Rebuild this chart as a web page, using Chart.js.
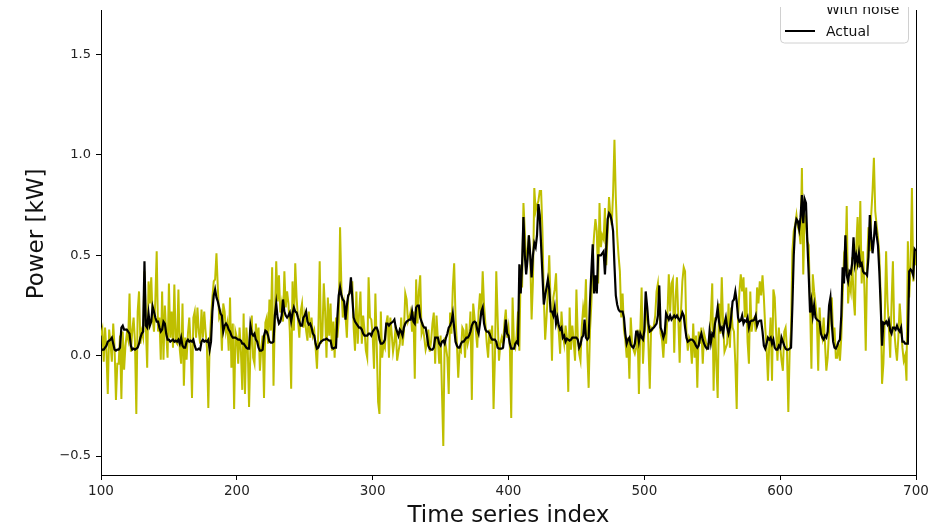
<!DOCTYPE html>
<html lang="en">
<head>
    <meta charset="UTF-8">
    <title>Power time series</title>
    <style>
        * {
            margin: 0;
            padding: 0;
            box-sizing: border-box;
        }

        body {
            background-color: #fff;
            overflow: hidden;
        }

        /* the figure is cut 20px above the axes top, like the picture */
        canvas {
            display: block;
            margin-top: -20px;
        }
    </style>
</head>
<body>
    <canvas id="powerChart" width="951" height="552"></canvas>

    <script src="https://cdn.jsdelivr.net/npm/chart.js"></script>
    <script>
// first time series index of both series
const xStart = 100;

// measured power (kW) with added noise, one value per index 100..700
const withNoise = [
0.1, 0.13, -0.03, 0.14, 0.02, -0.19, 0.13, 0.06, -0.03, 0.16,
0.04, -0.22, -0.04, -0.04, 0.1, -0.215, 0.12, -0.07, 0.05, 0.11,
0.08, 0.31, 0.02, 0.12, 0.19, 0.07, -0.29, 0.22, 0.32, 0.06,
0.12, 0.09, 0.42, 0.15, -0.06, 0.37, 0.26, 0.39, 0.19, 0.12,
0.28, 0.52, 0.12, 0.19, -0.02, 0.32, -0.02, 0.25, 0.12, -0.01,
0.36, 0.09, 0.22, 0.04, 0.355, 0.07, 0.06, 0.33, 0.03, -0.04,
0.26, -0.15, 0.09, -0.02, 0.11, 0.19, 0.05, -0.21, 0.19, 0.22,
0.09, 0.24, 0.12, 0.06, 0.23, 0.09, 0.22, 0.12, 0.04, -0.26,
0.06, 0.19, 0.29, 0.37, 0.38, 0.51, 0.34, 0.19, 0.21, 0.025,
0.26, 0.22, 0.12, 0.16, 0.025, 0.29, -0.06, 0.16, -0.265, 0.12,
0.09, -0.04, 0.14, 0.02, -0.17, 0.21, -0.19, 0.14, 0.05, -0.255,
0.025, 0.2, -0.01, -0.04, 0.16, 0.07, 0.14, -0.075, 0.04, 0.1,
-0.21, 0.165, 0.19, 0.06, 0.28, 0.125, 0.44, -0.15, 0.2, 0.47,
0.27, 0.4, 0.215, 0.26, 0.17, 0.42, 0.24, 0.32, 0.26, 0.12,
-0.165, 0.37, 0.125, 0.46, 0.29, 0.18, 0.09, 0.22, 0.26, 0.14,
0.2, 0.125, 0.075, 0.22, 0.09, 0.19, 0.1, 0.125, 0.04, -0.065,
0.125, 0.47, 0.06, 0.1, 0.36, 0.22, -0.01, 0.29, 0.1, 0.26,
0.025, 0.17, -0.01, 0.19, 0.09, 0.17, 0.64, 0.34, 0.19, 0.26,
0.2, 0.09, 0.29, 0.32, 0.33, 0.37, 0.14, 0.025, 0.32, 0.06,
0.21, 0.32, 0.06, 0.2, 0.125, 0.025, -0.01, 0.39, 0.19, 0.18,
0.1, -0.065, 0.31, 0.05, -0.23, -0.29, 0.22, -0.01, 0.06, 0.04,
0.16, 0.2, -0.01, 0.19, 0.11, 0.02, 0.07, 0.15, -0.025, 0.02,
0.06, 0.19, 0.05, 0.12, 0.31, 0.28, 0.17, 0.19, 0.22, 0.12,
0.22, -0.115, 0.38, 0.16, 0.32, 0.4, 0.11, 0.14, 0.09, 0.03,
0.06, 0.13, 0.02, 0.07, 0.16, 0.215, -0.04, 0.2, 0.08, -0.04,
0.1, -0.175, -0.45, 0.09, 0.04, -0.01, -0.19, 0.215, 0.11, 0.34,
0.46, 0.19, 0.06, -0.11, 0.03, 0.02, 0.14, 0.125, -0.01, 0.16,
0.06, 0.09, 0.22, -0.22, 0.26, 0.19, 0.12, 0.04, 0.22, 0.31,
0.2, 0.42, 0.25, 0.16, 0.06, -0.01, 0.13, 0.06, 0.15, -0.265,
-0.01, 0.42, 0.19, -0.025, 0.06, 0.09, 0.06, 0.16, 0.23, 0.09,
0.14, 0.04, -0.31, 0.29, 0.06, 0.04, 0.1, 0.22, 0.025, 0.45,
0.34, 0.76, 0.62, 0.45, 0.52, 0.6, 0.5, 0.18, 0.37, 0.835,
0.72, 0.75, 0.77, 0.82, 0.82, 0.62, 0.29, 0.08, 0.19, 0.32,
0.5, 0.26, -0.025, 0.29, 0.33, 0.41, 0.19, 0.12, 0.01, 0.22,
0.11, 0.06, 0.15, 0.09, -0.18, 0.24, 0.03, 0.15, 0.07, -0.025,
0.33, 0.09, 0.01, -0.025, 0.15, 0.24, 0.19, 0.38, 0.02, -0.16,
0.125, 0.26, 0.49, 0.6, 0.68, 0.62, 0.36, 0.76, 0.54, 0.6,
0.58, 0.735, 0.45, 0.62, 0.79, 0.7, 0.65, 0.81, 1.075, 0.79,
0.6, 0.5, 0.42, 0.19, 0.31, 0.13, 0.08, -0.01, 0.09, -0.115,
0.19, 0.06, 0.03, 0.01, 0.04, 0.13, -0.19, 0.12, 0.34, -0.04,
0.11, 0.19, 0.25, 0.06, -0.165, 0.14, 0.13, 0.15, 0.2, 0.32,
0.36, 0.22, 0.11, 0.08, -0.01, 0.12, 0.06, 0.2, 0.405, 0.22,
0.36, 0.38, 0.015, 0.29, 0.39, 0.19, -0.035, 0.22, 0.37, 0.44,
0.42, 0.11, 0.025, 0.09, 0.07, -0.04, 0.16, -0.01, 0.1, -0.16,
0.12, 0.06, 0.14, -0.04, 0.11, 0.08, 0.04, 0.06, 0.06, 0.2,
0.36, -0.175, 0.19, -0.04, -0.21, 0.26, 0.11, 0.39, 0.16, 0.02,
0.04, 0.06, 0.26, 0.04, 0.24, 0.14, 0.12, -0.04, -0.265, 0.19,
0.32, 0.405, 0.32, 0.39, 0.19, 0.34, 0.07, -0.04, 0.32, 0.12,
0.18, 0.19, 0.12, 0.34, 0.26, 0.37, 0.3, 0.4, 0.29, 0.14,
0.04, -0.125, 0.06, 0.19, -0.125, 0.33, 0.29, 0.12, -0.025, 0.14,
0.05, -0.025, -0.075, 0.12, 0.14, 0.03, -0.28, 0.025, 0.125, 0.52,
0.62, 0.65, 0.7, 0.64, 0.62, 0.555, 0.935, 0.405, 0.7, 0.67,
0.57, 0.55, 0.26, -0.065, 0.405, 0.32, 0.26, 0.19, -0.075, 0.24,
0.125, 0.09, 0.19, 0.06, -0.075, -0.01, 0.125, 0.22, 0.29, 0.09,
0.14, -0.01, -0.01, 0.06, -0.025, 0.09, 0.3, 0.49, 0.46, 0.745,
0.26, 0.36, 0.32, 0.49, 0.29, 0.2, 0.54, 0.69, 0.44, 0.77,
0.36, 0.52, 0.34, 0.025, 0.45, 0.64, 0.52, 0.7, 0.82, 0.985,
0.72, 0.65, 0.59, 0.5, 0.3, -0.14, -0.04, 0.19, 0.52, 0.27,
0.15, -0.01, 0.26, 0.47, 0.125, 0.04, -0.025, 0.09, 0.26, 0.16,
0.04, -0.025, 0.0, -0.125, 0.57, 0.29, 0.45, 0.835, 0.37, 0.53,
0.45
];

// actual power (kW), one value per index 100..700
const actual = [
0.025, 0.03, 0.03, 0.04, 0.05, 0.07, 0.075, 0.08, 0.09, 0.06,
0.03, 0.025, 0.03, 0.03, 0.04, 0.14, 0.15, 0.13, 0.13, 0.13,
0.12, 0.11, 0.05, 0.03, 0.035, 0.03, 0.035, 0.04, 0.06, 0.09,
0.11, 0.12, 0.47, 0.15, 0.14, 0.21, 0.15, 0.17, 0.245, 0.22,
0.19, 0.17, 0.17, 0.14, 0.12, 0.13, 0.17, 0.16, 0.11, 0.08,
0.08, 0.07, 0.075, 0.08, 0.07, 0.075, 0.07, 0.08, 0.06, 0.09,
0.05, 0.04, 0.04, 0.07, 0.08, 0.07, 0.075, 0.07, 0.08, 0.05,
0.03, 0.03, 0.035, 0.03, 0.07, 0.08, 0.07, 0.075, 0.07, 0.08,
0.03, 0.07, 0.22, 0.3, 0.33, 0.29, 0.27, 0.24, 0.21, 0.2,
0.12, 0.15, 0.16, 0.15, 0.13, 0.12, 0.1, 0.09, 0.09, 0.09,
0.085, 0.08, 0.08, 0.075, 0.06, 0.06, 0.05, 0.04, 0.035, 0.035,
0.15, 0.11, 0.1, 0.11, 0.08, 0.07, 0.04, 0.025, 0.025, 0.03,
0.1, 0.125, 0.12, 0.1, 0.07, 0.065, 0.065, 0.07, 0.2, 0.26,
0.19, 0.16, 0.17, 0.2, 0.28, 0.22, 0.2, 0.19, 0.2, 0.215,
0.17, 0.21, 0.24, 0.22, 0.215, 0.19, 0.17, 0.15, 0.15, 0.19,
0.2, 0.22, 0.17, 0.155, 0.16, 0.14, 0.11, 0.1, 0.06, 0.035,
0.04, 0.06, 0.07, 0.075, 0.08, 0.08, 0.085, 0.08, 0.075, 0.075,
0.04, 0.035, 0.04, 0.04, 0.19, 0.3, 0.34, 0.3, 0.28, 0.27,
0.18, 0.25, 0.3, 0.31, 0.39, 0.29, 0.19, 0.17, 0.16, 0.15,
0.14, 0.14, 0.13, 0.11, 0.1, 0.1, 0.1, 0.11, 0.11, 0.1,
0.12, 0.13, 0.14, 0.14, 0.12, 0.08, 0.06, 0.06, 0.065, 0.08,
0.16, 0.16, 0.15, 0.16, 0.165, 0.17, 0.18, 0.14, 0.12, 0.1,
0.13, 0.12, 0.1, 0.14, 0.16, 0.17, 0.175, 0.18, 0.18, 0.22,
0.17, 0.16, 0.24, 0.25, 0.25, 0.19, 0.17, 0.15, 0.14, 0.14,
0.1, 0.05, 0.035, 0.03, 0.03, 0.04, 0.09, 0.09, 0.09, 0.06,
0.05, 0.07, 0.075, 0.06, 0.09, 0.11, 0.14, 0.15, 0.17, 0.21,
0.14, 0.07, 0.05, 0.04, 0.04, 0.06, 0.07, 0.07, 0.08, 0.09,
0.09, 0.1, 0.12, 0.15, 0.165, 0.17, 0.165, 0.13, 0.11, 0.16,
0.22, 0.24, 0.16, 0.13, 0.12, 0.12, 0.11, 0.09, 0.08, 0.08,
0.08, 0.07, 0.04, 0.035, 0.035, 0.035, 0.04, 0.1, 0.18, 0.11,
0.1, 0.06, 0.035, 0.035, 0.035, 0.06, 0.07, 0.06, 0.455, 0.31,
0.455, 0.69, 0.5, 0.405, 0.48, 0.6, 0.5, 0.39, 0.5, 0.56,
0.54, 0.6, 0.755, 0.7, 0.55, 0.4, 0.255, 0.3, 0.34, 0.38,
0.33, 0.22, 0.22, 0.2, 0.24, 0.16, 0.19, 0.15, 0.13, 0.14,
0.09, 0.1, 0.07, 0.085, 0.08, 0.075, 0.08, 0.09, 0.09, 0.09,
0.09, 0.08, 0.04, 0.055, 0.09, 0.1, 0.18, 0.09, 0.08, 0.09,
0.27, 0.42, 0.555, 0.31, 0.4, 0.31, 0.5, 0.5, 0.5, 0.51,
0.52, 0.405, 0.54, 0.68, 0.71, 0.7, 0.67, 0.62, 0.45, 0.3,
0.255, 0.23, 0.22, 0.22, 0.22, 0.19, 0.11, 0.06, 0.08, 0.09,
0.055, 0.045, 0.04, 0.06, 0.12, 0.12, 0.07, 0.11, 0.09, 0.08,
0.125, 0.32, 0.25, 0.16, 0.12, 0.125, 0.135, 0.14, 0.15, 0.16,
0.2, 0.35, 0.14, 0.12, 0.09, 0.11, 0.21, 0.195, 0.18, 0.2,
0.18, 0.19, 0.2, 0.19, 0.2, 0.185, 0.175, 0.19, 0.215, 0.2,
0.14, 0.09, 0.07, 0.075, 0.08, 0.08, 0.075, 0.065, 0.05, 0.04,
0.05, 0.09, 0.11, 0.08, 0.06, 0.045, 0.035, 0.035, 0.12, 0.065,
0.11, 0.1, 0.16, 0.19, 0.24, 0.17, 0.13, 0.14, 0.11, 0.16,
0.19, 0.14, 0.11, 0.14, 0.2, 0.27, 0.28, 0.32, 0.27, 0.19,
0.17, 0.175, 0.2, 0.16, 0.175, 0.17, 0.19, 0.14, 0.17, 0.175,
0.175, 0.18, 0.2, 0.15, 0.17, 0.175, 0.175, 0.12, 0.05, 0.035,
0.06, 0.09, 0.08, 0.09, 0.06, 0.08, 0.04, 0.03, 0.03, 0.05,
0.04, 0.09, 0.07, 0.05, 0.035, 0.03, 0.03, 0.035, 0.04, 0.25,
0.5, 0.64, 0.68, 0.67, 0.63, 0.69, 0.8, 0.66, 0.78, 0.76,
0.57, 0.405, 0.215, 0.27, 0.2, 0.25, 0.19, 0.18, 0.175, 0.17,
0.11, 0.09, 0.08, 0.1, 0.09, 0.12, 0.25, 0.29, 0.16, 0.07,
0.04, 0.035, 0.05, 0.07, 0.08, 0.2, 0.44, 0.36, 0.6, 0.4,
0.37, 0.42, 0.41, 0.46, 0.59, 0.46, 0.5, 0.46, 0.51, 0.45,
0.46, 0.42, 0.41, 0.41, 0.4, 0.49, 0.7, 0.59, 0.51, 0.58,
0.67, 0.6, 0.55, 0.42, 0.25, 0.05, 0.165, 0.16, 0.17, 0.155,
0.175, 0.125, 0.11, 0.14, 0.14, 0.13, 0.15, 0.13, 0.12, 0.14,
0.07, 0.07, 0.06, 0.06, 0.06, 0.42, 0.43, 0.42, 0.4, 0.53,
0.52
];

const xTicks = [100, 200, 300, 400, 500, 600, 700];
const yTicks = [-0.5, 0.0, 0.5, 1.0, 1.5];
const seriesNames = ['With noise', 'Actual'];

const FONT = "'DejaVu Sans', 'Liberation Sans', sans-serif";

function toPoints(values) {
    return values.map((v, k) => ({ x: xStart + k, y: v }));
}

// blank band over the axes top, then the legend whose top is cut off
const topCut = {
    id: 'topCut',
    afterDraw(chart) {
        const ctx = chart.ctx;
        ctx.save();
        ctx.fillStyle = '#fff';
        ctx.fillRect(0, 0, chart.width, 30);

        ctx.beginPath();
        ctx.rect(0, 27, chart.width, chart.height);
        ctx.clip();
        ctx.beginPath();
        ctx.roundRect(780.5, 5.5, 128, 57.5, 4);
        ctx.fillStyle = 'rgba(255,255,255,0.8)';
        ctx.fill();
        ctx.strokeStyle = '#d0d0d0';
        ctx.lineWidth = 1;
        ctx.stroke();

        ctx.font = '14px ' + FONT;
        ctx.fillStyle = '#111';
        ctx.textBaseline = 'alphabetic';
        ctx.fillText(seriesNames[0], 826, 34);
        ctx.fillText(seriesNames[1], 826, 56);

        ctx.beginPath();
        ctx.moveTo(785, 51);
        ctx.lineTo(815, 51);
        ctx.strokeStyle = '#000';
        ctx.lineWidth = 2;
        ctx.stroke();
        ctx.restore();
    }
};

// right spine
const rightSpine = {
    id: 'rightSpine',
    afterDatasetsDraw(chart) {
        const { ctx, chartArea } = chart;
        ctx.save();
        ctx.beginPath();
        ctx.moveTo(Math.round(chartArea.right) + 0.5, chartArea.top);
        ctx.lineTo(Math.round(chartArea.right) + 0.5, chartArea.bottom);
        ctx.strokeStyle = '#000';
        ctx.lineWidth = 1;
        ctx.stroke();
        ctx.restore();
    }
};

new Chart(document.getElementById('powerChart'), {
    type: 'line',
    data: {
        datasets: [{
            label: seriesNames[0],
            data: toPoints(withNoise),
            borderColor: '#bfbf00',
            borderWidth: 2,
            pointRadius: 0,
            tension: 0,
            order: 2
        }, {
            label: seriesNames[1],
            data: toPoints(actual),
            borderColor: '#000',
            borderWidth: 2.2,
            pointRadius: 0,
            tension: 0,
            order: 1
        }]
    },
    options: {
        responsive: false,
        animation: false,
        layout: { padding: { top: 10, right: 35, left: 0, bottom: 0 } },
        plugins: {
            legend: { display: false },
            tooltip: { enabled: false }
        },
        scales: {
            x: {
                type: 'linear',
                min: 100,
                max: 700,
                afterBuildTicks: s => { s.ticks = xTicks.map(v => ({ value: v })); },
                afterFit: s => { s.height = 57; },
                grid: { drawOnChartArea: false, drawTicks: true, tickLength: 5, tickColor: '#000' },
                border: { display: true, color: '#000', width: 1 },
                ticks: {
                    font: { family: FONT, size: 13.5 },
                    color: '#222',
                    padding: 3,
                    maxRotation: 0
                },
                title: {
                    display: true,
                    text: 'Time series index',
                    font: { family: FONT, size: 23 },
                    color: '#111',
                    padding: { top: 0, bottom: 2 }
                }
            },
            y: {
                min: -0.594,
                max: 1.807,
                afterBuildTicks: s => { s.ticks = yTicks.map(v => ({ value: v })); },
                afterFit: s => { s.width = 101; },
                grid: { drawOnChartArea: false, drawTicks: true, tickLength: 5, tickColor: '#000' },
                border: { display: true, color: '#000', width: 1 },
                ticks: {
                    font: { family: FONT, size: 13 },
                    color: '#222',
                    padding: 5,
                    callback: v => (v < 0 ? '\u2212' : '') + Math.abs(v).toFixed(1)
                },
                title: {
                    display: true,
                    text: 'Power [kW]',
                    font: { family: FONT, size: 23 },
                    color: '#111',
                    padding: { top: 23, bottom: 0 }
                }
            }
        }
    },
    plugins: [topCut, rightSpine]
});
    </script>
</body>
</html>
